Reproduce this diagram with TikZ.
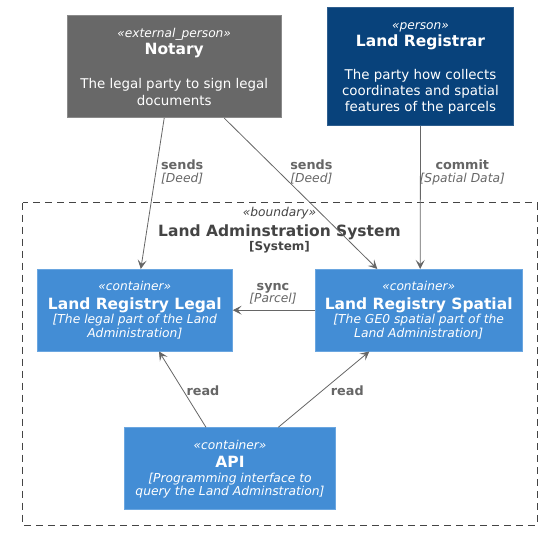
\documentclass[tikz,border=0pt]{standalone}
\usepackage{fontspec}
\setmainfont{DejaVu Sans}
\usetikzlibrary{arrows.meta}
\definecolor{notaryfill}{HTML}{686868}
\definecolor{notaryline}{HTML}{8A8A8A}
\definecolor{personfill}{HTML}{08427B}
\definecolor{personline}{HTML}{2E5E8E}
\definecolor{contfill}{HTML}{438DD5}
\definecolor{contline}{HTML}{6AA6E0}
\definecolor{arrowcol}{HTML}{666666}
\definecolor{boundcol}{HTML}{444444}
\tikzset{
  box/.style={rectangle, inner sep=0pt, line width=0.8pt},
  notarybox/.style={box, fill=notaryfill, draw=notaryline},
  personbox/.style={box, fill=personfill, draw=personline},
  contbox/.style={box, fill=contfill, draw=contline},
  txt/.style={inner sep=0pt, anchor=base, text=white},
  stereo/.style={txt, font=\fontsize{12.2}{14}\itshape},
  bname/.style={txt, font=\fontsize{15.5}{18}\bfseries},
  pdesc/.style={txt, font=\fontsize{13.4}{16}\selectfont},
  cdesc/.style={txt, font=\fontsize{12.3}{14}\itshape},
  rel/.style={draw=arrowcol, line width=0.8pt, -{Stealth[length=9pt, width=9pt, inset=4pt]}},
  lbl/.style={inner sep=0pt, anchor=base, text=arrowcol, font=\fontsize{12.8}{15}\bfseries},
  lbltech/.style={inner sep=0pt, anchor=base, text=arrowcol, font=\fontsize{12.3}{14}\itshape},
  btxt/.style={inner sep=0pt, anchor=base, text=boundcol},
}
\begin{document}
\begin{tikzpicture}[x=1pt, y=-1pt]
\useasboundingbox (0,0) rectangle (549,535);

% boundary
\draw[boundcol, line width=0.8pt, dash pattern=on 7pt off 5pt] (22.7,202.7) rectangle (537,525);
\node[btxt, font=\fontsize{12.2}{14}\itshape] (bst) at (279.5,216.7) {«boundary»};
\node[btxt, font=\fontsize{15.5}{18}\bfseries] (bname) at (279.5,236) {Land Adminstration System};
\node[btxt, font=\fontsize{12}{14}\bfseries] (bsys) at (279.5,250) {[System]};

% Notary
\node[notarybox, minimum width=213.7pt, minimum height=102pt] (notary) at (174.2,66.7) {};
\node[stereo] (notst) at (174.2,37.5) {«external\_person»};
\node[bname] (notnm) at (174.2,55) {Notary};
\node[pdesc] (notd1) at (174.2,88.3) {The legal party to sign legal};
\node[pdesc] (notd2) at (174.2,105) {documents};

% Land Registrar
\node[personbox, minimum width=185.6pt, minimum height=118pt] (reg) at (420.5,66.7) {};
\node[stereo] (regst) at (420.5,29.5) {«person»};
\node[bname] (regnm) at (420.5,46.7) {Land Registrar};
\node[pdesc] (regd1) at (420.5,80) {The party how collects};
\node[pdesc] (regd2) at (420.5,95.7) {coordinates and spatial};
\node[pdesc] (regd3) at (420.5,111) {features of the parcels};

% Land Registry Legal
\node[contbox, minimum width=195pt, minimum height=81.7pt] (legal) at (134.8,310.2) {};
\node[stereo] (legst) at (134.8,290.5) {«container»};
\node[bname] (legnm) at (134.8,309) {Land Registry Legal};
\node[cdesc] (legd1) at (134.8,323.5) {[The legal part of the Land};
\node[cdesc] (legd2) at (134.8,337.5) {Administration]};

% Land Registry Spatial
\node[contbox, minimum width=206.7pt, minimum height=81.7pt] (spatial) at (418.7,310.2) {};
\node[stereo] (spast) at (418.7,290.5) {«container»};
\node[bname] (spanm) at (418.7,309) {Land Registry Spatial};
\node[cdesc] (spad1) at (418.7,323.5) {[The GE0 spatial part of the};
\node[cdesc] (spad2) at (418.7,337.5) {Land Administration]};

% API
\node[contbox, minimum width=211.4pt, minimum height=81.6pt] (api) at (230,468.5) {};
\node[stereo] (apist) at (230,449) {«container»};
\node[bname] (apinm) at (230,467) {API};
\node[cdesc] (apid1) at (230,482) {[Programming interface to};
\node[cdesc] (apid2) at (230,495.5) {query the Land Adminstration]};

% relations
\draw[rel] ([xshift=-10pt]notary.south) -- ([xshift=6pt]legal.north);
\draw[rel] ([xshift=50pt]notary.south) -- ([xshift=-41.4pt]spatial.north);
\draw[rel] (reg.south) -- ([xshift=1.5pt]spatial.north);
\draw[rel] (spatial.west) -- (legal.east);
\draw[rel] ([xshift=-24pt]api.north) -- ([xshift=24.2pt]legal.south);
\draw[rel] ([xshift=48.3pt]api.north) -- ([xshift=-49.4pt]spatial.south);

% labels
\node[lbl] (l1a) at (182.2,169) {sends};
\node[lbltech] (l1b) at (182.2,182) {[Deed]};
\node[lbl] (l2a) at (311.4,169) {sends};
\node[lbltech] (l2b) at (311.4,182) {[Deed]};
\node[lbl] (l3a) at (462.3,169) {commit};
\node[lbltech] (l3b) at (462.3,182) {[Spatial Data]};
\node[lbl] (l4a) at (273,290.5) {sync};
\node[lbltech] (l4b) at (273,302.5) {[Parcel]};
\node[lbl] (l5) at (203,395) {read};
\node[lbl] (l6) at (347.3,395) {read};
\end{tikzpicture}
\end{document}
